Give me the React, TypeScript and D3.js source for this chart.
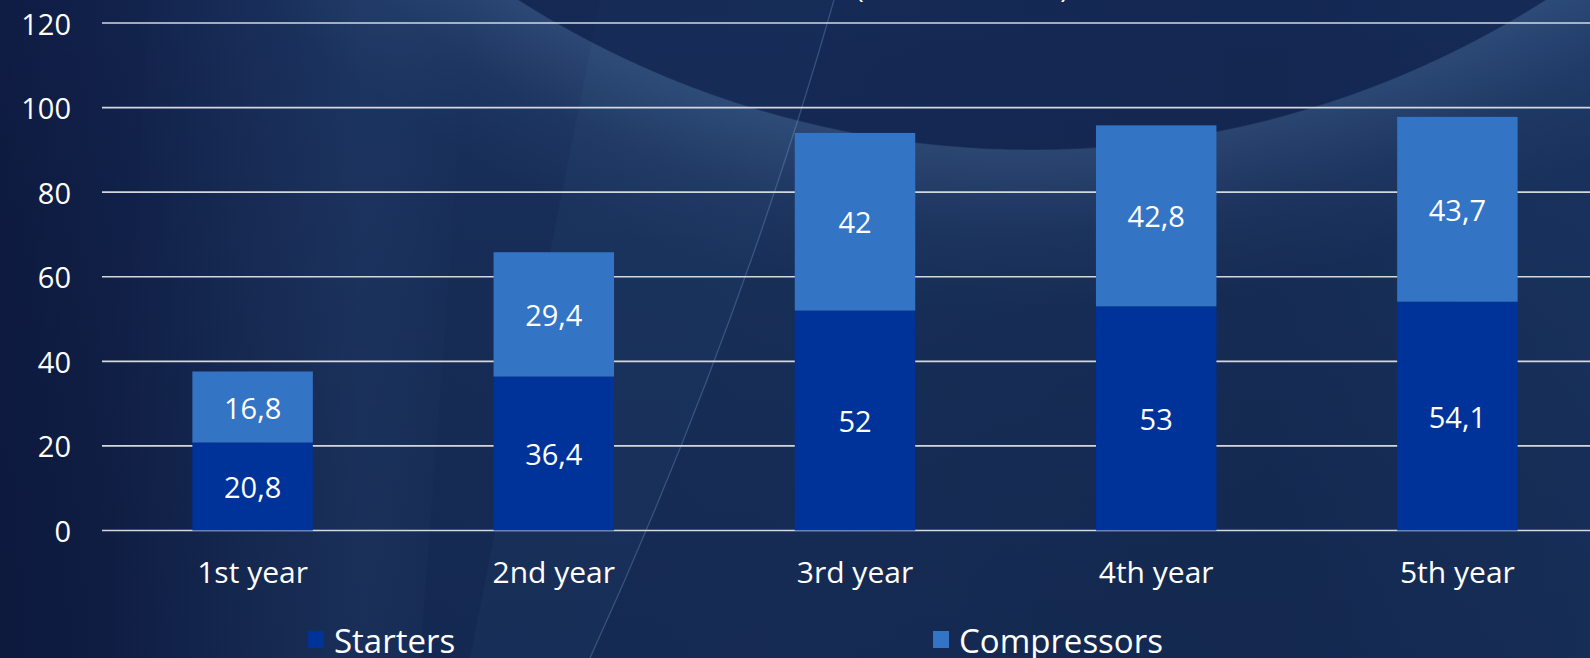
import React from "react";
import * as d3 from "d3";

const categories = ["1st year", "2nd year", "3rd year", "4th year", "5th year"];
const starters = [20.8, 36.4, 52, 53, 54.1];
const compressors = [16.8, 29.4, 42, 42.8, 43.7];
const yTicks = [0, 20, 40, 60, 80, 100, 120];
const seriesNames = ["Starters", "Compressors"];
const seriesValues = [starters, compressors];
const seriesColors = ["#003399", "#3474c5"];
const titleText = "(thousand units)";

const W = 1590;
const H = 658;
const FONT = "'Open Sans', 'Noto Sans', sans-serif";

const fmt = (v: number) => String(v).replace(".", ",");

export default function App() {
  const x = d3
    .scaleBand<string>()
    .domain(categories)
    .range([102, 1608])
    .paddingInner(0.6)
    .paddingOuter(0.3);
  const y = d3.scaleLinear().domain([0, 120]).range([530.5, 23]);

  const rows = categories.map((c, i) => ({ cat: c, Starters: starters[i], Compressors: compressors[i] }));
  const stack = d3.stack<any>().keys(seriesNames)(rows);

  const cx = 1032;
  const cy = -806;
  const R = 956;

  return (
    <svg width={W} height={H} style={{ position: "absolute", left: 0, top: 0, display: "block" }}>
      <defs>
        <linearGradient id="bg" x1="0" y1="0" x2="1" y2="0">
          <stop offset="0" stopColor="#0f1c44" />
          <stop offset="0.25" stopColor="#18305c" />
          <stop offset="0.5" stopColor="#19325e" />
          <stop offset="0.8" stopColor="#172f5a" />
          <stop offset="1" stopColor="#1a3562" />
        </linearGradient>
        <linearGradient id="bgv" x1="0" y1="0" x2="0" y2="1">
          <stop offset="0" stopColor="#000" stopOpacity="0" />
          <stop offset="1" stopColor="#050c25" stopOpacity="0.2" />
        </linearGradient>
        <radialGradient id="rim" cx={cx} cy={cy} r={R + 160} gradientUnits="userSpaceOnUse">
          <stop offset={R / (R + 160) - 0.001} stopColor="#7aa3d6" stopOpacity="0" />
          <stop offset={R / (R + 160)} stopColor="#7aa3d6" stopOpacity="0.2" />
          <stop offset={(R + 80) / (R + 160)} stopColor="#7aa3d6" stopOpacity="0.06" />
          <stop offset="1" stopColor="#7aa3d6" stopOpacity="0" />
        </radialGradient>
        <linearGradient id="band" x1="0" y1="0" x2="1" y2="0">
          <stop offset="0" stopColor="#4a74aa" stopOpacity="0" />
          <stop offset="0.7" stopColor="#4a74aa" stopOpacity="0.1" />
          <stop offset="1" stopColor="#4a74aa" stopOpacity="0" />
        </linearGradient>
      </defs>
      <rect x={0} y={0} width={W} height={H} fill="url(#bg)" />
      <rect x={0} y={0} width={W} height={H} fill="url(#bgv)" />
      {/* left lighter band */}
      <polygon points="150,0 470,0 420,658 110,658" fill="url(#band)" />
      {/* lighter wedge left of diagonal line */}
      <path d="M834,0 Q740,330 590,658 L470,658 L600,0 Z" fill="#5b84bb" fillOpacity={0.06} />
      {/* big circle */}
      <circle cx={cx} cy={cy} r={R + 160} fill="url(#rim)" />
      <circle cx={cx} cy={cy} r={R} fill="#0e1f48" fillOpacity={0.4} />
      {/* diagonal line */}
      <path d="M834,0 Q740,330 590,658" fill="none" stroke="#86acdc" strokeOpacity={0.3} strokeWidth={1.3} />

      {/* title (cropped) */}
      <text x={962} y={-2} textAnchor="middle" fill="#fff" fontFamily={FONT} fontSize={28}>
        {titleText}
      </text>

      {/* gridlines */}
      {yTicks.map((t) => (
        <line key={t} x1={102} x2={W} y1={y(t)} y2={y(t)} stroke="#d4d7dd" strokeWidth={1.6} />
      ))}
      {yTicks.map((t) => (
        <text key={"l" + t} x={71} y={y(t)} textAnchor="end" dominantBaseline="central" fill="#fff" fontFamily={FONT} fontSize={29}>
          {t}
        </text>
      ))}

      {/* bars */}
      {stack.map((s, si) =>
        s.map((d, i) => (
          <rect
            key={si + "-" + i}
            x={x(categories[i])}
            width={x.bandwidth()}
            y={y(d[1])}
            height={y(d[0]) - y(d[1])}
            fill={seriesColors[si]}
          />
        ))
      )}
      {stack.map((s, si) =>
        s.map((d, i) => (
          <text
            key={"v" + si + "-" + i}
            x={(x(categories[i]) as number) + x.bandwidth() / 2}
            y={(y(d[0]) + y(d[1])) / 2}
            textAnchor="middle"
            dominantBaseline="central"
            fill="#fff"
            fontFamily={FONT}
            fontSize={29}
          >
            {fmt(seriesValues[si][i])}
          </text>
        ))
      )}

      {/* category labels */}
      {categories.map((c) => (
        <text key={c} x={(x(c) as number) + x.bandwidth() / 2} y={571} textAnchor="middle" dominantBaseline="central" fill="#fff" fontFamily={FONT} fontSize={30}>
          {c}
        </text>
      ))}

      {/* legend */}
      {seriesNames.map((n, i) => {
        const lx = [308, 933][i];
        return (
          <g key={n}>
            <rect x={lx} y={631} width={16} height={17} fill={seriesColors[i]} />
            <text x={lx + 26} y={640} dominantBaseline="central" fill="#fff" fontFamily={FONT} fontSize={33}>
              {n}
            </text>
          </g>
        );
      })}
    </svg>
  );
}
